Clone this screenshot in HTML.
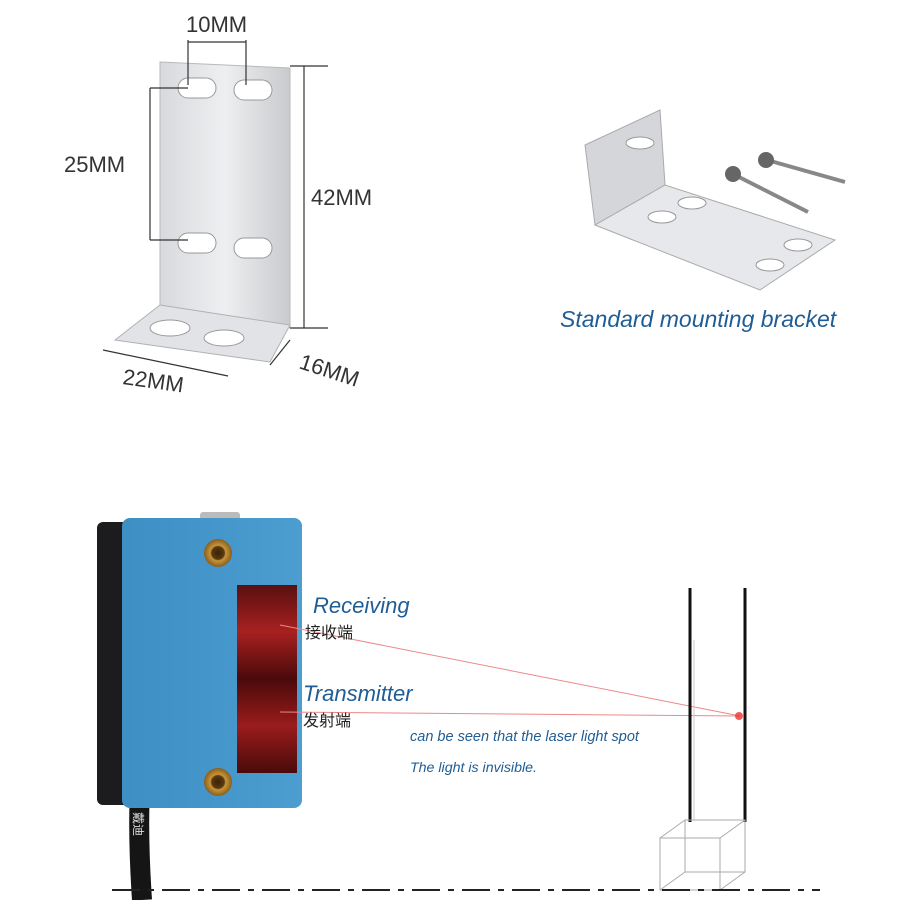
<!DOCTYPE html>
<html><head><meta charset="utf-8"><style>
html,body{margin:0;padding:0;background:#fff;width:900px;height:900px;overflow:hidden}
svg{display:block}
</style></head><body>
<svg width="900" height="900" viewBox="0 0 900 900" xmlns="http://www.w3.org/2000/svg" font-family="Liberation Sans, sans-serif">
<defs>
<linearGradient id="plate" x1="0" x2="1"><stop offset="0" stop-color="#d8d9dc"/><stop offset="0.5" stop-color="#eeeff1"/><stop offset="1" stop-color="#c9cacd"/></linearGradient>
<linearGradient id="blue" x1="0" x2="1"><stop offset="0" stop-color="#3d8fc4"/><stop offset="1" stop-color="#4c9dd0"/></linearGradient>
<linearGradient id="lens" x1="0" y1="0" x2="0" y2="1"><stop offset="0" stop-color="#5a1010"/><stop offset="0.25" stop-color="#a82020"/><stop offset="0.5" stop-color="#4a0a0a"/><stop offset="0.75" stop-color="#9a1c1c"/><stop offset="1" stop-color="#4a0a0a"/></linearGradient>
<radialGradient id="brass"><stop offset="0" stop-color="#3a2208"/><stop offset="0.45" stop-color="#5a3a10"/><stop offset="0.55" stop-color="#c8953a"/><stop offset="1" stop-color="#8a5e1c"/></radialGradient>
</defs>
<polygon points="160,62 290,68 290,328 160,318" fill="url(#plate)" stroke="#b8b9bc"/>
<polygon points="160,305 290,325 270,362 115,340" fill="#e2e3e6" stroke="#b0b1b4"/>
<rect x="178" y="78" width="38" height="20" rx="10" fill="#fff" stroke="#999"/>
<rect x="234" y="80" width="38" height="20" rx="10" fill="#fff" stroke="#999"/>
<rect x="178" y="233" width="38" height="20" rx="10" fill="#fff" stroke="#999"/>
<rect x="234" y="238" width="38" height="20" rx="10" fill="#fff" stroke="#999"/>
<ellipse cx="170" cy="328" rx="20" ry="8" fill="#fff" stroke="#999"/>
<ellipse cx="224" cy="338" rx="20" ry="8" fill="#fff" stroke="#999"/>
<g stroke="#333" stroke-width="1.2" fill="none">
<line x1="188" y1="40" x2="188" y2="85"/><line x1="246" y1="40" x2="246" y2="85"/><line x1="188" y1="42" x2="246" y2="42"/>
<line x1="150" y1="88" x2="150" y2="240"/><line x1="150" y1="88" x2="188" y2="88"/><line x1="150" y1="240" x2="188" y2="240"/>
<line x1="304" y1="66" x2="304" y2="328"/><line x1="290" y1="66" x2="328" y2="66"/><line x1="290" y1="328" x2="328" y2="328"/>
<line x1="103" y1="350" x2="228" y2="376"/><line x1="270" y1="365" x2="290" y2="340"/>
</g>
<text x="186" y="32" font-size="22" fill="#333">10MM</text>
<text x="64" y="172" font-size="22" fill="#333">25MM</text>
<text x="311" y="205" font-size="22" fill="#333">42MM</text>
<text x="122" y="384" font-size="22" fill="#333" transform="rotate(8 122 384)">22MM</text>
<text x="298" y="368" font-size="22" fill="#333" transform="rotate(18 298 368)">16MM</text>
<polygon points="585,145 660,110 665,185 595,225" fill="#d4d6da" stroke="#aaa"/>
<polygon points="595,225 665,185 835,240 760,290" fill="#e6e8eb" stroke="#aaa"/>
<ellipse cx="640" cy="143" rx="14" ry="6" fill="#fff" stroke="#999"/>
<ellipse cx="662" cy="217" rx="14" ry="6" fill="#fff" stroke="#999"/>
<ellipse cx="692" cy="203" rx="14" ry="6" fill="#fff" stroke="#999"/>
<ellipse cx="770" cy="265" rx="14" ry="6" fill="#fff" stroke="#999"/>
<ellipse cx="798" cy="245" rx="14" ry="6" fill="#fff" stroke="#999"/>
<line x1="735" y1="175" x2="808" y2="212" stroke="#888" stroke-width="4"/>
<line x1="767" y1="160" x2="845" y2="182" stroke="#888" stroke-width="4"/>
<circle cx="733" cy="174" r="8" fill="#666"/><circle cx="766" cy="160" r="8" fill="#666"/>
<text x="560" y="327" font-size="23" font-style="italic" fill="#1f5d94">Standard mounting bracket</text>
<path d="M140,790 C138,830 140,870 142,900" stroke="#151515" stroke-width="20" fill="none"/>
<text x="134" y="812" font-size="12" fill="#ddd" transform="rotate(90 134 812)" font-family="Liberation Sans, Noto Sans CJK SC, sans-serif">戴迪</text>
<rect x="97" y="522" width="40" height="283" rx="6" fill="#1c1c1e"/>
<rect x="200" y="512" width="40" height="10" rx="3" fill="#bbb"/>
<rect x="122" y="518" width="180" height="290" rx="8" fill="url(#blue)"/>
<rect x="237" y="585" width="60" height="188" fill="url(#lens)"/>
<circle cx="218" cy="553" r="14" fill="url(#brass)"/>
<circle cx="218" cy="782" r="14" fill="url(#brass)"/>
<line x1="280" y1="625" x2="740" y2="716" stroke="#e88" stroke-width="1"/>
<line x1="280" y1="712" x2="740" y2="716" stroke="#e88" stroke-width="1"/>
<circle cx="739" cy="716" r="4" fill="#e33" opacity="0.8"/>
<text x="313" y="613" font-size="22" font-style="italic" fill="#1f5d94">Receiving</text>
<text x="305" y="638" font-size="16" fill="#222" font-family="Liberation Sans, Noto Sans CJK SC, sans-serif">接收端</text>
<text x="303" y="701" font-size="22" font-style="italic" fill="#1f5d94">Transmitter</text>
<text x="303" y="726" font-size="16" fill="#222" font-family="Liberation Sans, Noto Sans CJK SC, sans-serif">发射端</text>
<text x="410" y="741" font-size="14.5" font-style="italic" fill="#1f5d94">can be seen that the laser light spot</text>
<text x="410" y="772" font-size="14.2" font-style="italic" fill="#1f5d94">The light is invisible.</text>
<line x1="690" y1="588" x2="690" y2="822" stroke="#111" stroke-width="3"/>
<line x1="745" y1="588" x2="745" y2="822" stroke="#111" stroke-width="3"/>
<line x1="694" y1="640" x2="694" y2="820" stroke="#ccc" stroke-width="1"/>
<g stroke="#aaa" fill="none">
<rect x="660" y="838" width="60" height="52"/><rect x="685" y="820" width="60" height="52"/>
<line x1="660" y1="838" x2="685" y2="820"/><line x1="720" y1="838" x2="745" y2="820"/>
<line x1="660" y1="890" x2="685" y2="872"/><line x1="720" y1="890" x2="745" y2="872"/>
</g>
<line x1="112" y1="890" x2="820" y2="890" stroke="#222" stroke-width="2" stroke-dasharray="28,8,6,8"/>
</svg>
</body></html>
